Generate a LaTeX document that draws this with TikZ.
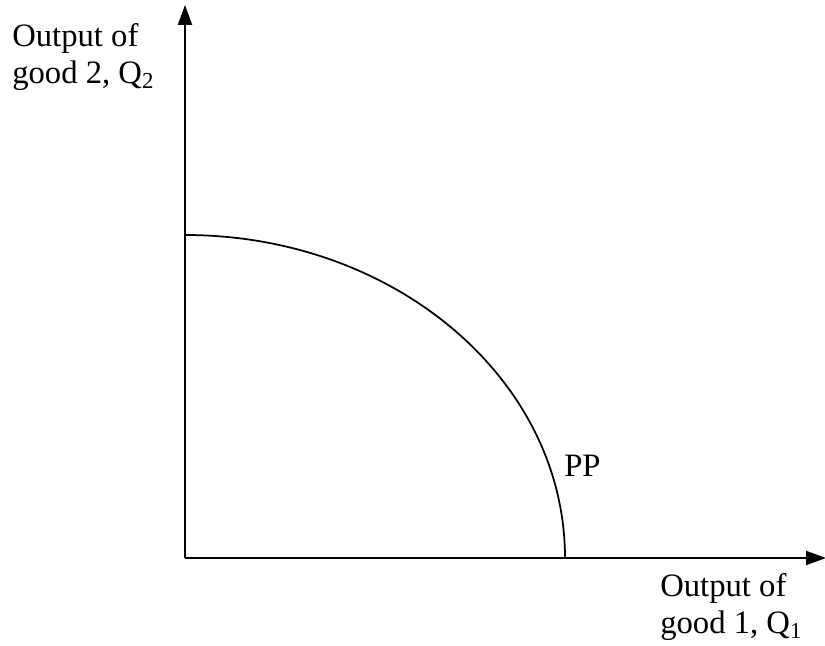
\documentclass[tikz,border=0pt]{standalone}
\usepackage{fontspec}
\setmainfont{Liberation Serif}
\usetikzlibrary{arrows.meta}

\begin{document}
\begin{tikzpicture}[x=0.75pt, y=0.75pt,
    axis/.style={line width=1.5pt, -{Triangle[length=15pt, width=10.5pt]}},
    lbl/.style={inner sep=0pt, align=left, font=\fontsize{24.5}{27.75}\selectfont}]
    \useasboundingbox (0,0) rectangle (825,646);
    \coordinate (O) at (185,88);
    \coordinate (ytop) at (185,641);
    \coordinate (xend) at (826,88);
    \coordinate (qtwo) at (185,411);
    \draw[axis] (O) -- (ytop);
    \draw[axis] (O) -- (xend);
    % production possibility frontier
    \draw[line width=1.3pt] (qtwo) arc[start angle=90, end angle=0, x radius=380, y radius=323] coordinate (qone);
    \node[lbl, anchor=base west] (pp) at (564,169) {PP};
    \node[lbl, anchor=north west] (ylab) at (12,623) {Output of\\good 2, Q\textsubscript{2}};
    \node[lbl, anchor=north west] (xlab) at (660,73) {Output of\\good 1, Q\textsubscript{1}};
\end{tikzpicture}
\end{document}
